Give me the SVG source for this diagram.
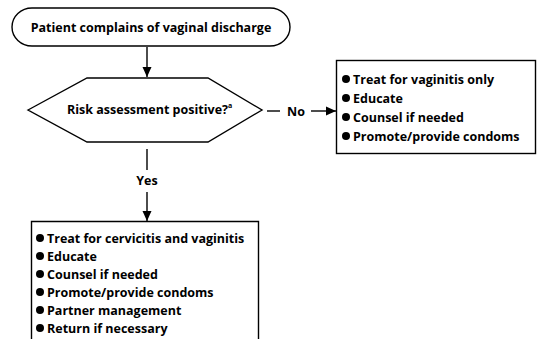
<svg xmlns="http://www.w3.org/2000/svg" width="537" height="339" viewBox="0 0 537 339">
<defs>
<style>
.shape{fill:#fff;stroke:#000;stroke-width:1.4}
.line{fill:none;stroke:#000;stroke-width:1.4}
text{font-family:"Open Sans","Liberation Sans",sans-serif;font-weight:700;font-size:12.5px;fill:#000}
.c{text-anchor:middle}
.sup{font-size:7px}
</style>
<marker id="ah" viewBox="0 0 10 10" refX="10" refY="5" markerWidth="10" markerHeight="10" markerUnits="userSpaceOnUse" orient="auto">
<path d="M0,0.5 L10,5 L0,9.5 Z" fill="#000"/>
</marker>
</defs>
<rect width="537" height="339" fill="#fff"/>
<g id="start">
<rect class="shape" x="12" y="8" width="278" height="38" rx="20" ry="19"/>
<text class="c" x="151" y="32">Patient complains of vaginal discharge</text>
</g>
<g id="decision">
<polygon class="shape" points="28,110 87,78 208,78 262,110 208,142 87,142"/>
<text x="67" y="114">Risk assessment positive?<tspan class="sup" dy="-6">a</tspan></text>
</g>
<g id="no-box">
<rect class="shape" x="336.5" y="60.5" width="199" height="93"/>
<circle cx="346" cy="79" r="4"/><text x="353" y="83.5">Treat for vaginitis only</text>
<circle cx="346" cy="98" r="4"/><text x="353" y="102.5">Educate</text>
<circle cx="346" cy="117" r="4"/><text x="353" y="121.5">Counsel if needed</text>
<circle cx="346" cy="136" r="4"/><text x="353" y="140.5">Promote/provide condoms</text>
</g>
<g id="yes-box">
<polyline class="line" points="31.5,339 31.5,221.5 258.5,221.5 258.5,339"/>
<circle cx="40" cy="238" r="4"/><text x="47" y="242.5">Treat for cervicitis and vaginitis</text>
<circle cx="40" cy="256" r="4"/><text x="47" y="260.5">Educate</text>
<circle cx="40" cy="274" r="4"/><text x="47" y="278.5">Counsel if needed</text>
<circle cx="40" cy="292" r="4"/><text x="47" y="296.5">Promote/provide condoms</text>
<circle cx="40" cy="310" r="4"/><text x="47" y="314.5">Partner management</text>
<circle cx="40" cy="328" r="4"/><text x="47" y="332.5">Return if necessary</text>
</g>
<g id="connectors">
<line class="line" x1="147" y1="47" x2="147" y2="77" marker-end="url(#ah)"/>
<line class="line" x1="267" y1="111" x2="280" y2="111"/>
<text class="c" x="296" y="115.5">No</text>
<line class="line" x1="311" y1="111" x2="336" y2="111" marker-end="url(#ah)"/>
<line class="line" x1="147" y1="149" x2="147" y2="170"/>
<text class="c" x="147" y="185">Yes</text>
<line class="line" x1="147" y1="192" x2="147" y2="221" marker-end="url(#ah)"/>
</g>
</svg>
